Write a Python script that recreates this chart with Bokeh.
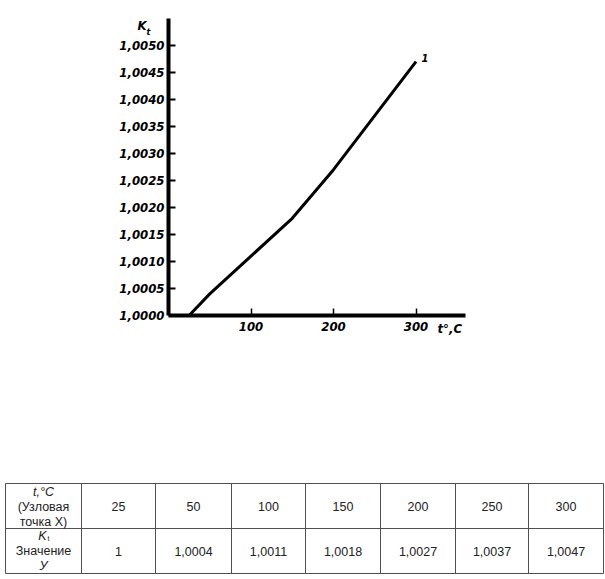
from bokeh.plotting import figure
from bokeh.models import Range1d, FixedTicker, CustomJSTickFormatter, Label
from bokeh.core.properties import value
from bokeh.embed import file_html
from bokeh.resources import INLINE

# ---- data ----
t_nodes = [25, 50, 100, 150, 200, 250, 300]
k_values = [1.0, 1.0004, 1.0011, 1.0018, 1.0027, 1.0037, 1.0047]
x_ticks = [100, 200, 300]
y_ticks = [1.0000, 1.0005, 1.0010, 1.0015, 1.0020, 1.0025,
           1.0030, 1.0035, 1.0040, 1.0045, 1.0050]
y_title = "K"
y_title_sub = "t"
x_title = "t°,C"
curve_name = "1"
t_cells = ["25", "50", "100", "150", "200", "250", "300"]
k_cells = ["1", "1,0004", "1,0011", "1,0018", "1,0027", "1,0037", "1,0047"]
head1 = ["t,°C", "(Узловая", "точка X)"]
head2 = ["Значение", "У"]

# ---- layout constants (pixels) ----
W, H = 604, 578
X0_PX = 168.0        # pixel of t = 0
PX_PER_T = 0.825     # pixels per degree
Y0_PX = 315.0        # pixel of K = 1
PX_PER_K = 54000.0   # pixels per unit of K


def t_at(px):
    return (px - X0_PX) / PX_PER_T


def k_at(py):
    return 1.0 + (Y0_PX - py) / PX_PER_K


p = figure(width=W, height=H,
           x_range=Range1d(t_at(0), t_at(W)), y_range=Range1d(k_at(H), k_at(0)),
           extra_x_ranges={"px": Range1d(0, W)}, extra_y_ranges={"py": Range1d(H, 0)},
           output_backend="svg", toolbar_location=None, min_border=0)
p.grid.visible = False
p.outline_line_color = None
p.background_fill_color = "white"
p.border_fill_color = "white"

# curve
p.line(t_nodes, k_values, line_width=3, color="black")

# axes, drawn at t = 0 and K = 1
font = "DejaVu Sans Condensed"
for ax in (p.xaxis[0], p.yaxis[0]):
    ax.axis_line_width = 4
    ax.axis_line_color = "black"
    ax.major_tick_in = 7
    ax.major_tick_out = 0
    ax.minor_tick_line_color = None
    ax.major_tick_line_color = "black"
    ax.major_label_text_font = font
    ax.major_label_text_font_style = "bold italic"
    ax.major_label_text_font_size = "13px"
    ax.major_label_text_color = "black"

p.xaxis.fixed_location = 1.0
p.xaxis.bounds = (0, 360)
p.xaxis.ticker = FixedTicker(ticks=x_ticks)
p.xaxis.major_tick_line_width = 1.5
p.xaxis.major_label_standoff = 6

p.yaxis.fixed_location = 0
p.yaxis.bounds = (1.0, k_at(18))
p.yaxis.ticker = FixedTicker(ticks=y_ticks)
p.yaxis.major_tick_line_width = 2
p.yaxis.major_label_standoff = 4
p.yaxis.formatter = CustomJSTickFormatter(code="return tick.toFixed(4).replace('.', ',');")

lab_style = dict(text_font=font, text_font_style="bold italic", text_color="black",
                 text_align="left", text_baseline="middle")
p.add_layout(Label(x=t_at(137), y=k_at(25), text=y_title, text_font_size="13px", **lab_style))
p.add_layout(Label(x=t_at(146), y=k_at(31), text=y_title_sub, text_font_size="9px", **lab_style))
p.add_layout(Label(x=t_at(437), y=k_at(328), text=x_title, text_font_size="13px", **lab_style))
p.add_layout(Label(x=t_at(421), y=k_at(57), text=curve_name, text_font_size="11px", **lab_style))

# ---- table (pixel ranges) ----
col_edges = [5, 81, 155, 231, 305, 380, 455, 528, 603]
row_edges = [483, 528, 573]
line_col = "#505050"
rng = dict(x_range_name="px", y_range_name="py")
p.segment(x0=[col_edges[0]] * 3, x1=[col_edges[-1]] * 3, y0=row_edges, y1=row_edges,
          line_color=line_col, line_width=1, **rng)
p.segment(x0=col_edges, x1=col_edges, y0=[row_edges[0]] * len(col_edges),
          y1=[row_edges[-1]] * len(col_edges), line_color=line_col, line_width=1, **rng)

centers = [(col_edges[i] + col_edges[i + 1]) / 2 for i in range(len(col_edges) - 1)]
tfont = value("Liberation Sans")
tcol = "#222222"
tstyle = dict(text_baseline="middle", text_font=tfont, text_font_size="12.5px",
              text_color=tcol, **rng)
p.text(x=centers[1:], y=[506] * len(t_cells), text=t_cells, text_align="center", **tstyle)
p.text(x=centers[1:], y=[551] * len(k_cells), text=k_cells, text_align="center", **tstyle)

c0 = centers[0]
p.text(x=[c0], y=[491], text=[head1[0]], text_align="center", text_font_style="italic", **tstyle)
p.text(x=[c0], y=[506], text=[head1[1]], text_align="center", **tstyle)
p.text(x=[c0], y=[521], text=[head1[2]], text_align="center", **tstyle)
p.text(x=[c0 - 1], y=[535], text=[y_title], text_align="center", text_font_style="italic", **tstyle)
p.text(x=[c0 + 4], y=[538], text=[y_title_sub], text_align="left", text_baseline="middle",
       text_font=tfont, text_font_size="7px", text_color=tcol, **rng)
p.text(x=[c0], y=[550], text=[head2[0]], text_align="center", **tstyle)
p.text(x=[c0], y=[565], text=[head2[1]], text_align="center", text_font_style="italic", **tstyle)

open("out.html", "w").write(file_html(p, INLINE))
